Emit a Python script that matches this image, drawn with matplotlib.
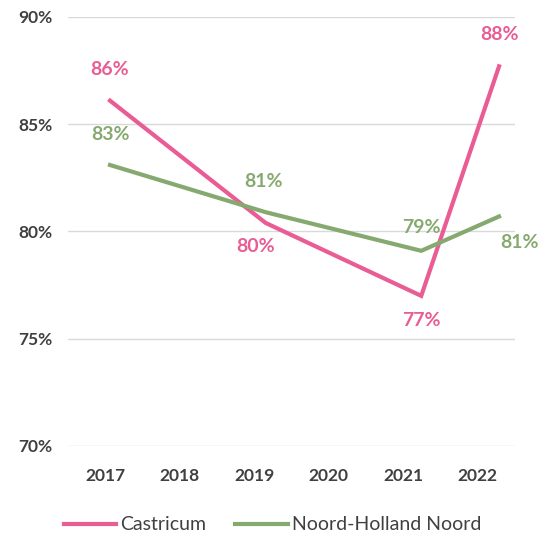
import numpy as np
import matplotlib.pyplot as plt

# Data
years = ['2017', '2018', '2019', '2020', '2021', '2022']
castricum = [86.1, np.nan, 80.4, np.nan, 77.0, 87.7]
nhn = [83.1, np.nan, 80.9, np.nan, 79.1, 80.7]

pink = '#E95C94'
green = '#86A96F'
text_col = '#404040'
grid_col = '#D9D9D9'

plt.rcParams['font.family'] = ['Lato', 'DejaVu Sans']

fig = plt.figure(figsize=(5.48, 5.39), dpi=100)
ax = fig.add_axes([68 / 548, (539 - 446) / 539, 447 / 548, 429 / 539])

x = np.arange(len(years))


def draw(vals, color, label):
    v = np.array(vals, dtype=float)
    m = ~np.isnan(v)
    ax.plot(x[m], v[m], color=color, lw=3, label=label, solid_joinstyle='miter')


draw(castricum, pink, 'Castricum')
draw(nhn, green, 'Noord-Holland Noord')

# Data label offsets (pixels)
pink_off = [(0, 31), None, (-10, -24), None, (0, -25), (0, 32)]
green_off = [(0, 31), None, (-2, 31), None, (0, 23), (20, -26)]
for vals, offs, col in [(castricum, pink_off, pink), (nhn, green_off, green)]:
    for xi, v, off in zip(x, vals, offs):
        if np.isnan(v):
            continue
        ax.annotate(f'{round(v)}%', (xi, v), xytext=off, textcoords='offset pixels',
                    ha='center', va='center', color=col, fontsize=14, fontweight='bold')

ax.set_ylim(70, 90)
ax.set_yticks([70, 75, 80, 85, 90])
ax.set_yticklabels([f'{t}%' for t in [70, 75, 80, 85, 90]])
ax.set_xlim(-0.54, 5.205)
ax.set_xticks(-0.064 + 0.9576 * x)
ax.set_xticklabels(years)

ax.grid(axis='y', color=grid_col, lw=1)
ax.set_axisbelow(True)
for s in ax.spines.values():
    s.set_visible(False)
ax.tick_params(axis='both', length=0, colors=text_col, labelsize=12.5)
ax.tick_params(axis='x', pad=16)
ax.tick_params(axis='y', pad=11)
for t in ax.get_xticklabels() + ax.get_yticklabels():
    t.set_fontweight('bold')

fig.legend(loc='center', bbox_to_anchor=(0.497, 14 / 539), ncol=2, frameon=False,
           fontsize=14, handlelength=2.7, handletextpad=0.2, columnspacing=1.5,
           labelcolor=text_col)

fig.savefig('out.png', dpi=100)
